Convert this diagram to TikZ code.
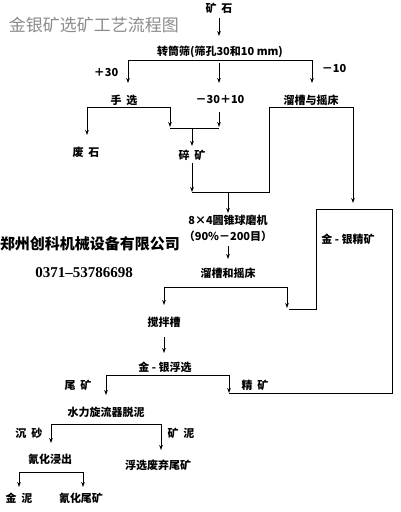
\documentclass[tikz,border=0pt]{standalone}
\usepackage{fontspec}
\setmainfont{Liberation Serif}
\newfontfamily\cjk{Noto Sans CJK SC}
\usetikzlibrary{arrows.meta}
\newcommand{\gp}{\hspace{5pt}}
\begin{document}
\begin{tikzpicture}[x=1pt,y=-1pt,
  lbl/.style={font=\cjk\bfseries\fontsize{11}{11}\selectfont, inner sep=0pt},
  ttl/.style={font=\cjk\fontsize{17}{17}\selectfont, text=black!45, inner sep=0pt},
  co/.style={font=\cjk\bfseries\fontsize{15}{15}\selectfont, inner sep=0pt},
  tel/.style={font=\bfseries\fontsize{15}{15}\selectfont, inner sep=0pt},
  ln/.style={line width=0.8pt},
  arr/.style={line width=0.8pt, -{Stealth[length=5pt,width=3.6pt]}}]
\fill[white] (0,0) rectangle (400,512);
\useasboundingbox (0,0) rectangle (400,512);

% texts
\node[ttl] (title) at (94,25) {金银矿选矿工艺流程图};
\node[co] (company) at (90,244) {郑州创科机械设备有限公司};
\node[tel] (phone) at (84,273) {0371–53786698};

\node[lbl] (ore) at (219,8) {矿\gp 石};
\node[lbl] (screen) at (220,52) {转筒筛(筛孔30和10 mm)};
\node[lbl] (p30) at (106,73) {＋30};
\node[lbl] (m10) at (334,69) {－10};
\node[lbl] (hand) at (124,100) {手\gp 选};
\node[lbl] (mid) at (220,100) {－30＋10};
\node[lbl] (sluiceA) at (311,100) {溜槽与摇床};
\node[lbl] (waste) at (86,152) {废\gp 石};
\node[lbl] (crushed) at (192,155) {碎\gp 矿};
\node[lbl] (mill) at (228,220) {8×4圆锥球磨机};
\node[lbl] (millB) at (228,236) {（90\%－200目）};
\node[lbl] (concA) at (348,239) {金 - 银精矿};
\node[lbl] (sluiceB) at (228,273) {溜槽和摇床};
\node[lbl] (tank) at (164,322) {搅拌槽};
\node[lbl] (flot) at (165,367) {金 - 银浮选};
\node[lbl] (tail) at (78,385) {尾\gp 矿};
\node[lbl] (concB) at (255,385) {精\gp 矿};
\node[lbl] (cyclone) at (106,412) {水力旋流器脱泥};
\node[lbl] (sand) at (29,433) {沉\gp 砂};
\node[lbl] (slime) at (181,433) {矿\gp 泥};
\node[lbl] (leach) at (50,459) {氰化浸出};
\node[lbl] (ftail) at (158,465) {浮选废弃尾矿};
\node[lbl] (goldmud) at (19,498) {金\gp 泥};
\node[lbl] (ctail) at (81,498) {氰化尾矿};

% junction coordinates
\coordinate (a1) at (219,18);  \coordinate (a2) at (219,36);
\coordinate (sL) at (128,60);  \coordinate (sR) at (312,60);
\coordinate (sLe) at (128,83); \coordinate (sRe) at (312,83);
\coordinate (sM) at (219,63);  \coordinate (sMe) at (219,83);
\coordinate (hL) at (87,107);  \coordinate (hLe) at (87,135);
\coordinate (hRe) at (170,127);
\coordinate (mT) at (219,112); \coordinate (mE) at (219,127);
\coordinate (jL) at (170,128); \coordinate (jR) at (219,128);
\coordinate (jM) at (192,128); \coordinate (jMe) at (192,146);
\coordinate (cT) at (192,163); \coordinate (cE) at (192,192);
\coordinate (gR) at (269,192);
\coordinate (uL) at (269,107); \coordinate (uR) at (353,107);
\coordinate (uRe) at (353,203);
\coordinate (gM) at (228,192); \coordinate (gMe) at (228,213);
\coordinate (mlT) at (228,246); \coordinate (mlE) at (228,259);
\coordinate (sbR) at (287,287); \coordinate (sbLe) at (164,305);
\coordinate (sbRe) at (287,308);
\coordinate (b1) at (289,309); \coordinate (b2) at (316,309);
\coordinate (b3) at (316,209); \coordinate (b4) at (392,209);
\coordinate (b5) at (392,393); \coordinate (b6) at (229,393);
\coordinate (tT) at (164,337); \coordinate (tE) at (164,353);
\coordinate (fL) at (106,375); \coordinate (fLe) at (106,395);
\coordinate (fR) at (229,375);
\coordinate (yL) at (51,424);  \coordinate (yLe) at (51,443);
\coordinate (yR) at (161,424); \coordinate (yRe) at (161,450);
\coordinate (lL) at (19,472);  \coordinate (lLe) at (19,487);
\coordinate (lR) at (83,472);  \coordinate (lRe) at (83,487);

% connectors
\draw[arr] (a1) -- (a2);
\draw[ln] (sL) -- (sR);
\draw[arr] (sL) -- (sLe);
\draw[arr] (sR) -- (sRe);
\draw[arr] (sM) -- (sMe);
\draw[arr] (hL) -- (hLe);
\draw[arr] (hL) -| (hRe);
\draw[arr] (mT) -- (mE);
\draw[ln] (jL) -- (jR);
\draw[arr] (jM) -- (jMe);
\draw[arr] (cT) -- (cE);
\draw[ln] (cE) -- (gR) -- (uL) -- (uR);
\draw[arr] (uR) -- (uRe);
\draw[arr] (gM) -- (gMe);
\draw[arr] (mlT) -- (mlE);
\draw[arr] (sbR) -| (sbLe);
\draw[arr] (sbR) -- (sbRe);
\draw[ln] (b1) -- (b2) -- (b3) -- (b4) -- (b5) -- (b6);
\draw[arr] (tT) -- (tE);
\draw[arr] (fL) -- (fLe);
\draw[ln] (fL) -- (fR);
\draw[arr] (fR) -- (b6);
\draw[ln] (yL) -- (yR);
\draw[arr] (yL) -- (yLe);
\draw[arr] (yR) -- (yRe);
\draw[ln] (lL) -- (lR);
\draw[arr] (lL) -- (lLe);
\draw[arr] (lR) -- (lRe);
\end{tikzpicture}
\end{document}
